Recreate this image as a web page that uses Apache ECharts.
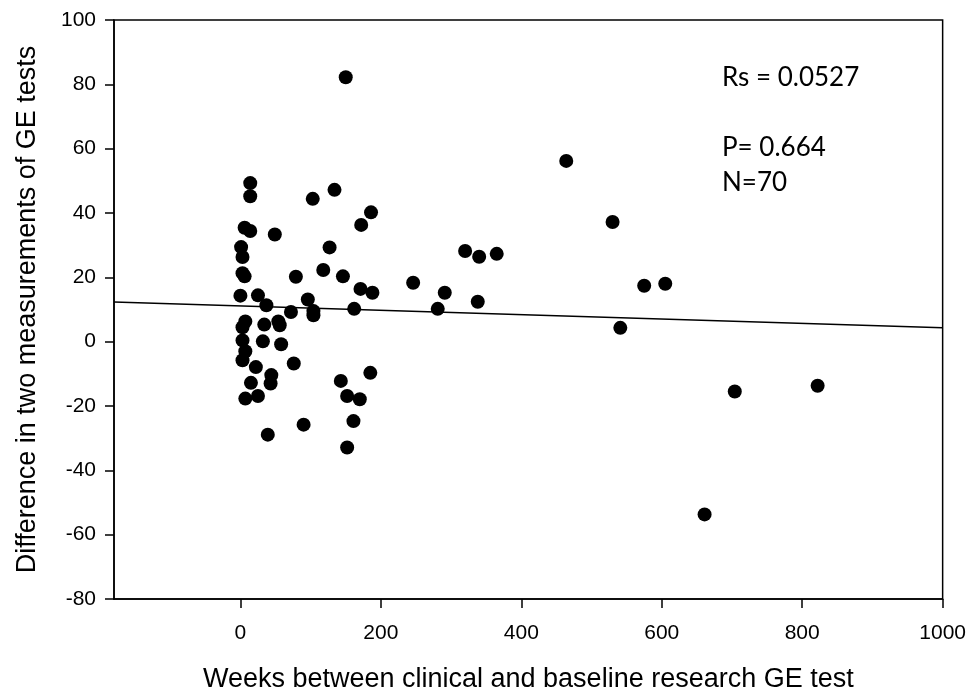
<!DOCTYPE html>
<html>
<head>
<meta charset="utf-8">
<script src="https://cdn.jsdelivr.net/npm/echarts@6/dist/echarts.min.js"></script>
<style>
  html, body { margin: 0; padding: 0; background: #fff; }
  #chart { width: 969px; height: 698px; }
</style>
</head>
<body>
<div id="chart"></div>
<script>
// weeks between clinical and baseline research GE test
const weeks = [
  150, 464, 530, 575, 605, 541, 704, 822, 661,
  246, 281, 291, 320, 340, 365, 338,
  14, 14, 103, 134, 186, 172, 6, 14, 49, 127,
  1, 3, 3, 6, 79, 118, 146, 171, 188, 0,
  25, 37, 96, 72, 104, 104, 162, 7, 3, 34,
  54, 56, 32, 58, 3, 7,
  3, 76, 22, 44, 43, 15, 143, 185, 7, 25, 152, 170, 161, 90, 39, 152
]
// difference in two measurements of GE tests
const diffs = [
  82.2, 56.2, 37.2, 17.4, 18, 4.3, -15.5, -13.7, -53.7,
  18.3, 10.2, 15.2, 28.2, 26.4, 27.3, 12.4,
  49.3, 45.2, 44.4, 47.2, 40.2, 36.3, 35.4, 34.4, 33.3, 29.3,
  29.4, 26.3, 21.3, 20.3, 20.2, 22.3, 20.3, 16.4, 15.2, 14.3,
  14.4, 11.3, 13.1, 9.2, 9.5, 8.2, 10.2, 6.3, 4.5, 5.3,
  6.3, 5.1, 0.1, -0.8, 0.4, -3,
  -5.8, -6.8, -7.9, -10.4, -13, -12.8, -12.2, -9.7, -17.7, -16.9, -16.9, -17.9, -24.7, -25.8, -28.9, -32.9
]
// fitted regression line, read at the two ends of the x axis
const fitX = [-180, 1000]
const fitY = [12.3, 4.3]
const xTicks = [0, 200, 400, 600, 800, 1000]
const statsText = ['Rs = 0.0527', '', 'P= 0.664', 'N=70']

const chart = echarts.init(document.getElementById('chart'))
const axisFont = { fontFamily: 'Liberation Sans, Arial', fontSize: 21, color: '#000' }
const titleFont = { fontFamily: 'Liberation Sans, Arial', fontSize: 27, color: '#000' }

const option = {
  animation: false,
  grid: {
    left: 114, right: 26, top: 20, bottom: 97,
    show: true, borderColor: '#000', borderWidth: 1.5
  },
  xAxis: {
    type: 'value',
    min: -180,
    max: 1000,
    name: 'Weeks between clinical and baseline research GE test',
    nameLocation: 'middle',
    nameGap: 67,
    nameTextStyle: titleFont,
    axisLine: { onZero: false, lineStyle: { color: '#000', width: 1.5 } },
    axisTick: { show: true, length: 9, lineStyle: { color: '#000', width: 1.5 }, customValues: xTicks },
    axisLabel: { ...axisFont, margin: 24, customValues: xTicks, formatter: (v) => String(v) },
    splitLine: { show: false }
  },
  yAxis: {
    type: 'value',
    min: -80,
    max: 100,
    interval: 20,
    name: 'Difference in two measurements of GE tests',
    nameLocation: 'middle',
    nameGap: 73,
    nameRotate: 90,
    nameTextStyle: titleFont,
    axisLine: { show: true, onZero: false, lineStyle: { color: '#000', width: 1.5 } },
    axisTick: { show: true, length: 9, lineStyle: { color: '#000', width: 1.5 } },
    axisLabel: { ...axisFont, margin: 18 },
    splitLine: { show: false }
  },
  graphic: [
    {
      type: 'text',
      left: 722,
      top: 60,
      style: {
        text: statsText.join('\n'),
        font: '26px Lato, "Open Sans", sans-serif',
        lineHeight: 35,
        fill: '#000'
      }
    }
  ],
  series: [
    {
      type: 'scatter',
      data: weeks.map((w, i) => [w, diffs[i]]),
      symbolSize: 14,
      itemStyle: { color: '#000', opacity: 1 }
    },
    {
      type: 'line',
      data: fitX.map((x, i) => [x, fitY[i]]),
      showSymbol: false,
      symbol: 'none',
      lineStyle: { color: '#000', width: 1.5 }
    }
  ]
}
chart.setOption(option)
</script>
</body>
</html>
